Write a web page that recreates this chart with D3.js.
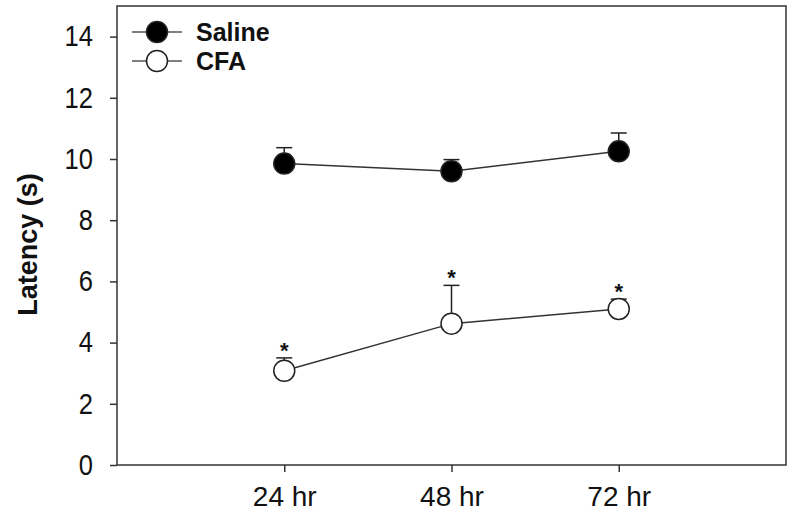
<!DOCTYPE html>
<html>
<head>
<meta charset="utf-8">
<script src="https://cdn.jsdelivr.net/npm/d3@7"></script>
<style>
  body { margin: 0; background: #fff; }
  text { font-family: "Liberation Sans", Arial, sans-serif; fill: #111; }
</style>
</head>
<body>
<svg id="chart"></svg>
<script>
// data
const categories = ["24 hr", "48 hr", "72 hr"];
const salineMean = [9.85, 9.6, 10.25];
const salineSem = [0.52, 0.38, 0.6];
const cfaMean = [3.08, 4.62, 5.1];
const cfaSem = [0.42, 1.25, 0.32];
const cfaStars = [true, true, true];
const yTicks = [0, 2, 4, 6, 8, 10, 12, 14];

const width = 800;
const height = 527;
const margin = { top: 6, right: 14, bottom: 62, left: 117 };

const svg = d3.select("#chart").attr("width", width).attr("height", height);

// x positions 1..3 in a 0..4 domain
const xScale = d3
  .scaleLinear()
  .domain([0, categories.length + 1])
  .range([margin.left, width - margin.right]);

const yScale = d3
  .scaleLinear()
  .domain([0, 15])
  .range([height - margin.bottom, margin.top]);

// frame
svg
  .append("rect")
  .attr("x", margin.left)
  .attr("y", margin.top)
  .attr("width", width - margin.right - margin.left)
  .attr("height", height - margin.bottom - margin.top)
  .style("fill", "none")
  .style("stroke", "#333")
  .style("stroke-width", 1.5);

// y axis
const condense = 0.88;
const yAxis = d3.axisLeft(yScale).tickValues(yTicks).tickSize(7).tickSizeOuter(0);
const gy = svg
  .append("g")
  .attr("transform", `translate(${margin.left}, 0)`)
  .call(yAxis);
gy.select(".domain").remove();
gy.selectAll(".tick line").style("stroke", "#333").style("stroke-width", 1.5);
gy.selectAll(".tick text")
  .attr("x", -24 / condense)
  .attr("transform", `scale(${condense},1)`)
  .style("font-size", "29px")
  .style("fill", "#111");

// x axis
const xAxis = d3
  .axisBottom(xScale)
  .tickValues(categories.map((d, i) => i + 1))
  .tickFormat((d) => categories[d - 1])
  .tickSize(7)
  .tickSizeOuter(0)
  .tickPadding(14);
const gx = svg
  .append("g")
  .attr("transform", `translate(0, ${height - margin.bottom})`)
  .call(xAxis);
gx.select(".domain").remove();
gx.selectAll(".tick line").style("stroke", "#333").style("stroke-width", 1.5);
gx.selectAll(".tick text").style("font-size", "28px").style("fill", "#111");

// y label
svg
  .append("text")
  .attr("transform", `translate(37, ${(margin.top + height - margin.bottom) / 2 + 9}) rotate(-90)`)
  .attr("text-anchor", "middle")
  .style("font-size", "27px")
  .style("font-weight", "bold")
  .text("Latency (s)");

const line = d3
  .line()
  .x((d, i) => xScale(i + 1))
  .y((d) => yScale(d));

function drawSeries(mean, sem, fill, r) {
  svg
    .append("path")
    .datum(mean)
    .attr("d", line)
    .style("fill", "none")
    .style("stroke", "#333")
    .style("stroke-width", 1.5);

  // upper error bars
  const eb = svg.append("g");
  eb.selectAll("line.bar")
    .data(mean)
    .enter()
    .append("line")
    .attr("x1", (d, i) => xScale(i + 1))
    .attr("x2", (d, i) => xScale(i + 1))
    .attr("y1", (d) => yScale(d))
    .attr("y2", (d, i) => yScale(d + sem[i]))
    .style("stroke", "#222")
    .style("stroke-width", 1.5);
  eb.selectAll("line.cap")
    .data(mean)
    .enter()
    .append("line")
    .attr("x1", (d, i) => xScale(i + 1) - 8)
    .attr("x2", (d, i) => xScale(i + 1) + 8)
    .attr("y1", (d, i) => yScale(d + sem[i]))
    .attr("y2", (d, i) => yScale(d + sem[i]))
    .style("stroke", "#222")
    .style("stroke-width", 1.5);

  svg
    .append("g")
    .selectAll("circle")
    .data(mean)
    .enter()
    .append("circle")
    .attr("cx", (d, i) => xScale(i + 1))
    .attr("cy", (d) => yScale(d))
    .attr("r", r)
    .style("fill", fill)
    .style("stroke", "#222")
    .style("stroke-width", 1.5);
}

drawSeries(salineMean, salineSem, "#000", 10.5);
drawSeries(cfaMean, cfaSem, "#fff", 10.5);

// significance stars
svg
  .append("g")
  .selectAll("text")
  .data(cfaMean.filter((d, i) => cfaStars[i]))
  .enter()
  .append("text")
  .attr("x", (d, i) => xScale(i + 1))
  .attr("y", (d, i) => yScale(d + cfaSem[i]))
  .attr("text-anchor", "middle")
  .style("font-size", "22px")
  .style("font-weight", "bold")
  .text("*");

// legend
const legend = [
  { name: "Saline", fill: "#000" },
  { name: "CFA", fill: "#fff" },
];
const lg = svg
  .append("g")
  .selectAll("g")
  .data(legend)
  .enter()
  .append("g")
  .attr("transform", (d, i) => `translate(157, ${32 + i * 29})`);
lg.append("line")
  .attr("x1", -25)
  .attr("x2", 25)
  .style("stroke", "#555")
  .style("stroke-width", 1.5);
lg.append("circle")
  .attr("r", 10.5)
  .style("fill", (d) => d.fill)
  .style("stroke", "#222")
  .style("stroke-width", 1.5);
lg.append("text")
  .attr("x", 39)
  .attr("y", 9)
  .style("font-size", "25px")
  .style("font-weight", "bold")
  .text((d) => d.name);
</script>
</body>
</html>
